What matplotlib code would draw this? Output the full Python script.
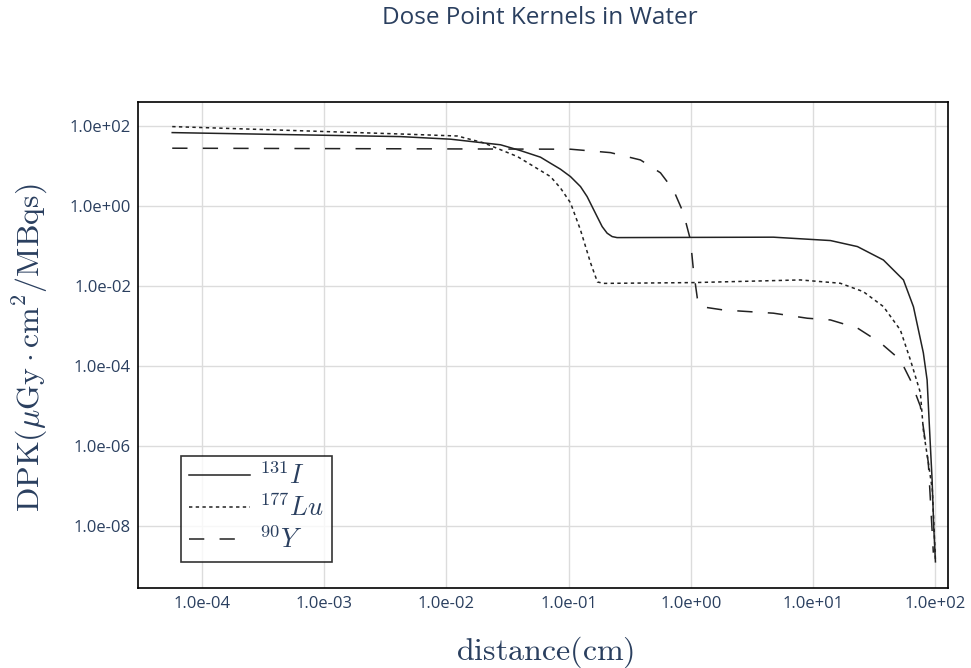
import matplotlib
matplotlib.use("Agg")
import matplotlib.pyplot as plt
from matplotlib.ticker import FixedLocator, FuncFormatter

plt.rcParams["font.family"] = ["Open Sans", "DejaVu Sans"]
plt.rcParams["mathtext.fontset"] = "cm"

TEXT_COLOR = "#2a3f5f"

# ---- data (distance in cm, DPK in uGy*cm^2/MBqs) ----
i131_dist = [5.69e-5, 4.21e-3, 1.08e-2, 2.77e-2, 4.04e-2, 5.88e-2, 7.10e-2, 8.57e-2,
             0.1035, 0.125, 0.1416, 0.1556, 0.171, 0.188, 0.2065, 0.227, 0.249,
             4.74, 13.9, 23.1, 37.7, 55.0, 66.4, 80.0, 85.9, 91.4, 94.4, 97.3, 100.5]
i131_dpk = [70.0, 55.6, 47.9, 34.7, 24.8, 17.0, 12.0, 8.51,
            5.56, 3.13, 1.76, 0.989, 0.556, 0.313, 0.214, 0.176, 0.166,
            0.170, 0.140, 0.099, 0.0457, 0.0145, 3.1e-3, 2.19e-4, 4.57e-5, 1.0e-6,
            1.45e-7, 1.0e-8, 1.3e-9]

lu177_dist = [5.69e-5, 4.21e-3, 1.23e-2, 2.01e-2, 3.81e-2, 7.10e-2, 8.57e-2, 0.1035,
              0.125, 0.151, 0.172, 0.193, 1.05, 7.89, 16.7, 25.8, 37.7, 51.9,
              62.7, 75.7, 80.0, 87.9, 94.8, 100.5]
lu177_dpk = [98.9, 64.6, 57.5, 38.9, 17.6, 5.56, 2.88, 1.23,
             0.257, 0.0389, 0.0129, 0.0119, 0.01245, 0.0145, 0.0120, 7.4e-3, 3.13e-3, 8.1e-4,
             1.45e-4, 2.19e-5, 2.57e-6, 3.9e-7, 8.1e-8, 1.45e-9]

y90_dist = [5.69e-5, 0.1035, 0.220, 0.387, 0.564, 0.721, 0.869, 0.993, 1.05,
            1.13, 1.20, 1.85, 4.74, 8.99, 13.9, 23.1, 35.6, 51.9, 62.7,
            75.7, 87.9, 96.6]
y90_dpk = [28.5, 26.9, 22.1, 14.5, 6.92, 2.57, 0.69, 0.145, 0.0257,
           5.1e-3, 3.13e-3, 2.57e-3, 2.14e-3, 1.6e-3, 1.45e-3, 9.1e-4, 3.9e-4, 1.45e-4, 4.57e-5,
           1.0e-5, 3.9e-7, 2.2e-9]

x_ticks = [1e-4, 1e-3, 1e-2, 1e-1, 1e0, 1e1, 1e2]
y_ticks = [1e-8, 1e-6, 1e-4, 1e-2, 1e0, 1e2]


def sci_fmt(v, pos):
    return f"{v:.1e}"


fig = plt.figure(figsize=(9.71, 6.68), dpi=100)
ax = fig.add_axes([138 / 971, 80 / 668, 810 / 971, 486 / 668])

ax.plot(i131_dist, i131_dpk, color="#222222", lw=1.1, label=r"$^{131}I$")
ax.plot(lu177_dist, lu177_dpk, color="#222222", lw=1.1, dashes=(2.2, 2.2),
        label=r"$^{177}Lu$")
ax.plot(y90_dist, y90_dpk, color="#222222", lw=1.1, dashes=(10, 10),
        label=r"$^{90}Y$")

ax.set_xscale("log")
ax.set_yscale("log")
ax.set_xlim(10 ** -4.525, 10 ** 2.105)
ax.set_ylim(10 ** -9.54, 10 ** 2.61)

ax.xaxis.set_major_locator(FixedLocator(x_ticks))
ax.yaxis.set_major_locator(FixedLocator(y_ticks))
ax.xaxis.set_minor_locator(FixedLocator([]))
ax.yaxis.set_minor_locator(FixedLocator([]))
ax.xaxis.set_major_formatter(FuncFormatter(sci_fmt))
ax.yaxis.set_major_formatter(FuncFormatter(sci_fmt))

ax.grid(True, color="#dcdcdc", lw=1.0)
ax.set_axisbelow(True)
ax.tick_params(length=0, labelsize=12, labelcolor=TEXT_COLOR)
ax.tick_params(axis="x", pad=6)
ax.tick_params(axis="y", pad=5)
for s in ax.spines.values():
    s.set_color("black")
    s.set_linewidth(1.2)

ax.set_xlabel(r"$\mathrm{distance(cm)}$", fontsize=23, color=TEXT_COLOR, va="center")
ax.set_ylabel(r"$\mathrm{DPK}(\mu\mathrm{Gy}\cdot\mathrm{cm}^2/\mathrm{MBqs})$",
              fontsize=23, color=TEXT_COLOR, va="center")
ax.xaxis.set_label_coords(0.5025, -64 / 486)
ax.yaxis.set_label_coords(-108 / 810, 0.494)

fig.text(540 / 971, 1 - 18 / 668, "Dose Point Kernels in Water", ha="center", va="center",
         fontsize=17.5, color=TEXT_COLOR)

leg = ax.legend(loc="lower left", bbox_to_anchor=(43 / 810, 26 / 486), fontsize=19,
                frameon=True, fancybox=False, handlelength=2.3, labelspacing=0.2,
                borderpad=0.3, handletextpad=0.35, borderaxespad=0)
leg.get_frame().set_edgecolor("black")
leg.get_frame().set_linewidth(1.2)
for t in leg.get_texts():
    t.set_color(TEXT_COLOR)

fig.savefig("out.png", dpi=100)
